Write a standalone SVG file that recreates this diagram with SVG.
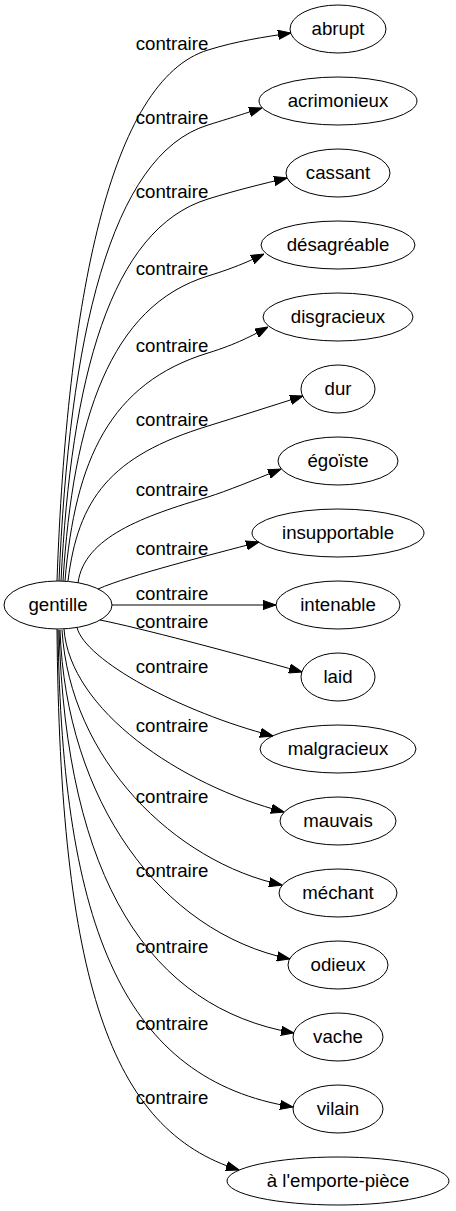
<svg xmlns="http://www.w3.org/2000/svg" width="456" height="1211" viewBox="0 0 456 1211">
<style>
.node ellipse{fill:none;stroke:#000;stroke-width:1}
text{font-family:"Liberation Sans",Arial,sans-serif;font-size:18.67px;fill:#000;text-anchor:middle}
.edges path{fill:none;stroke:#000;stroke-width:1;marker-end:url(#arr)}
</style>
<defs>
<marker id="arr" markerUnits="userSpaceOnUse" viewBox="0 0 13 10" markerWidth="13" markerHeight="10" refX="13" refY="5" orient="auto">
<path d="M0,0.4 L13,5 L0,9.6 z" fill="#000" stroke="#000" stroke-width="1"/>
</marker>
</defs>
<g id="edges" class="edges">
<path d="M57,581 C67,300 110,80 208,50 C237,41 264,37 291,33"/>
<path d="M59,581 C69,339 110,155 208,125 C237,116 249.5,112 262,108"/>
<path d="M61,581 C71,379 110,229 208,199 C237,190 262,184 287,178"/>
<path d="M63,581 C73,419 110,306 208,276 C237,267 250.5,260.5 264,254"/>
<path d="M65,581 C75,460 110,383 208,353 C237,344 252.5,335.5 268,327"/>
<path d="M68,581 C78,499 110,456 208,426 C237,417 270,406.5 303,396"/>
<path d="M78,583 C84,537 144,516 208,497 C227,491 254,480 281,469"/>
<path d="M98,589 C130,575 210,555 259,542"/>
<path d="M112,605 L276,605"/>
<path d="M100,620 C140,628 230,652 302,672"/>
<path d="M77,627.5 C85,660 180,712 273,736"/>
<path d="M64,629 C70,710 180,785 284,812"/>
<path d="M62,630 C70,760 175,862 282,885"/>
<path d="M60,630 C66,800 160,932 290,959"/>
<path d="M59,630 C66,880 150,1008 294,1033"/>
<path d="M58,630 C62,930 125,1080 293,1107"/>
<path d="M57,629 C60,980 110,1130 239,1170"/>
</g>
<g id="edge-labels">
<text x="172" y="50">contraire</text>
<text x="172" y="124">contraire</text>
<text x="172" y="198">contraire</text>
<text x="172" y="275">contraire</text>
<text x="172" y="352">contraire</text>
<text x="172" y="425.5">contraire</text>
<text x="172" y="496">contraire</text>
<text x="172" y="555">contraire</text>
<text x="172" y="600">contraire</text>
<text x="172" y="628">contraire</text>
<text x="172" y="673">contraire</text>
<text x="172" y="732">contraire</text>
<text x="172" y="803">contraire</text>
<text x="172" y="877">contraire</text>
<text x="172" y="953">contraire</text>
<text x="172" y="1030">contraire</text>
<text x="172" y="1104">contraire</text>
</g>
<g id="gentille" class="node"><ellipse cx="58" cy="605" rx="54" ry="24"/><text x="58" y="610.5">gentille</text></g>
<g id="abrupt" class="node"><ellipse cx="338" cy="29" rx="48" ry="24"/><text x="338" y="34.5">abrupt</text></g>
<g id="acrimonieux" class="node"><ellipse cx="338" cy="101" rx="79" ry="24"/><text x="338" y="106.5">acrimonieux</text></g>
<g id="cassant" class="node"><ellipse cx="338" cy="173" rx="52" ry="24"/><text x="338" y="178.5">cassant</text></g>
<g id="desagreable" class="node"><ellipse cx="338" cy="245" rx="77" ry="24"/><text x="338" y="250.5">désagréable</text></g>
<g id="disgracieux" class="node"><ellipse cx="338" cy="317" rx="75" ry="24"/><text x="338" y="322.5">disgracieux</text></g>
<g id="dur" class="node"><ellipse cx="338" cy="389" rx="37" ry="24"/><text x="338" y="394.5">dur</text></g>
<g id="egoiste" class="node"><ellipse cx="338" cy="461" rx="60" ry="24"/><text x="338" y="466.5">égoïste</text></g>
<g id="insupportable" class="node"><ellipse cx="338" cy="533" rx="86" ry="24"/><text x="338" y="538.5">insupportable</text></g>
<g id="intenable" class="node"><ellipse cx="338" cy="605" rx="62" ry="24"/><text x="338" y="610.5">intenable</text></g>
<g id="laid" class="node"><ellipse cx="338" cy="677" rx="37" ry="24"/><text x="338" y="682.5">laid</text></g>
<g id="malgracieux" class="node"><ellipse cx="338" cy="749" rx="78" ry="24"/><text x="338" y="754.5">malgracieux</text></g>
<g id="mauvais" class="node"><ellipse cx="338" cy="821" rx="58" ry="24"/><text x="338" y="826.5">mauvais</text></g>
<g id="mechant" class="node"><ellipse cx="338" cy="893" rx="59" ry="24"/><text x="338" y="898.5">méchant</text></g>
<g id="odieux" class="node"><ellipse cx="338" cy="965" rx="50" ry="24"/><text x="338" y="970.5">odieux</text></g>
<g id="vache" class="node"><ellipse cx="338" cy="1037" rx="45" ry="24"/><text x="338" y="1042.5">vache</text></g>
<g id="vilain" class="node"><ellipse cx="338" cy="1109" rx="45" ry="24"/><text x="338" y="1114.5">vilain</text></g>
<g id="emporte-piece" class="node"><ellipse cx="338" cy="1181" rx="111" ry="24"/><text x="338" y="1186.5">à l'emporte-pièce</text></g>
</svg>
